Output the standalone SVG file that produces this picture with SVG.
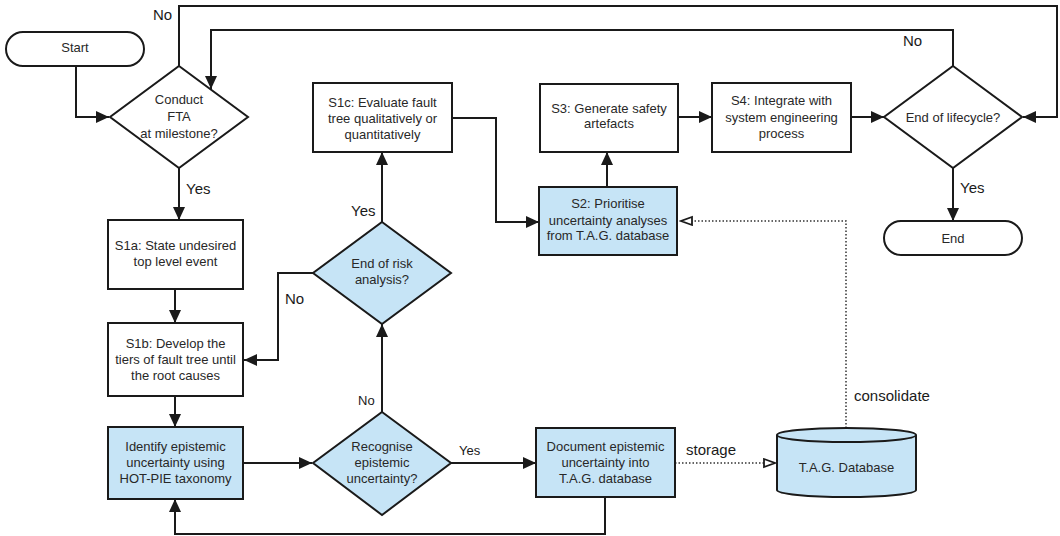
<svg xmlns="http://www.w3.org/2000/svg" width="1060" height="536" viewBox="0 0 1060 536">
  <defs>
    <style>
      .box { fill: #ffffff; stroke: #1a1a1a; stroke-width: 2; }
      .hl { fill: #c6e4f6; }
      .t { font-family: "Liberation Sans", Arial, sans-serif; font-size: 13px; fill: #282828; text-anchor: middle; }
      .lbl { font-family: "Liberation Sans", Arial, sans-serif; font-size: 15px; fill: #1a1a1a; }
      .lbs { font-family: "Liberation Sans", Arial, sans-serif; font-size: 13px; fill: #1a1a1a; }
      .ln { fill: none; stroke: #1a1a1a; stroke-width: 2; }
      .dot { fill: none; stroke: #333; stroke-width: 1.5; stroke-dasharray: 1.5 2; }
    </style>
    <marker id="arr" markerUnits="userSpaceOnUse" markerWidth="14" markerHeight="12" refX="13" refY="6" orient="auto">
      <path d="M0,0 L13,6 L0,12 Z" fill="#1a1a1a"/>
    </marker>
    <marker id="open" markerUnits="userSpaceOnUse" markerWidth="14" markerHeight="12" refX="12" refY="5" orient="auto">
      <path d="M1,1 L12,5 L1,9 Z" fill="#ffffff" stroke="#1a1a1a" stroke-width="1.8"/>
    </marker>
  </defs>

  <!-- connectors -->
  <g id="connectors">
    <path class="ln" d="M76,66 V117 H109" marker-end="url(#arr)"/>
    <path class="ln" d="M179,66 V6 H1057 V117 H1023" marker-end="url(#arr)"/>
    <path class="ln" d="M953,66 V30 H211 V89" marker-end="url(#arr)"/>
    <path class="ln" d="M179,168 V220" marker-end="url(#arr)"/>
    <path class="ln" d="M175,289 V323" marker-end="url(#arr)"/>
    <path class="ln" d="M175,396 V427" marker-end="url(#arr)"/>
    <path class="ln" d="M243,463 H312" marker-end="url(#arr)"/>
    <path class="ln" d="M451,463 H536" marker-end="url(#arr)"/>
    <path class="ln" d="M605,497 V534 H175 V499" marker-end="url(#arr)"/>
    <path class="ln" d="M382,412 V324" marker-end="url(#arr)"/>
    <path class="ln" d="M313,273 H278 V360 H244" marker-end="url(#arr)"/>
    <path class="ln" d="M382,222 V152" marker-end="url(#arr)"/>
    <path class="ln" d="M452,118 H496 V222 H539" marker-end="url(#arr)"/>
    <path class="ln" d="M607,187 V152" marker-end="url(#arr)"/>
    <path class="ln" d="M678,117 H712" marker-end="url(#arr)"/>
    <path class="ln" d="M851,117 H884" marker-end="url(#arr)"/>
    <path class="ln" d="M953,168 V221" marker-end="url(#arr)"/>
    <path class="dot" d="M675,463 H775" marker-end="url(#open)"/>
    <path class="dot" d="M846,428 V221 H681" marker-end="url(#open)"/>

    <text class="lbl" x="153" y="20">No</text>
    <text class="lbl" x="903" y="46">No</text>
    <text class="lbl" x="186" y="194">Yes</text>
    <text class="lbl" x="960" y="193">Yes</text>
    <text class="lbl" x="351" y="216">Yes</text>
    <text class="lbl" x="285" y="304">No</text>
    <text class="lbs" x="358" y="405">No</text>
    <text class="lbs" x="459" y="455">Yes</text>
    <text class="lbl" x="686" y="455">storage</text>
    <text class="lbl" x="854" y="401">consolidate</text>
  </g>

  <g id="start">
    <rect class="box" x="6" y="32" width="138" height="34" rx="17"/>
    <text class="t" x="75" y="52">Start</text>
  </g>

  <g id="conduct-fta">
    <polygon class="box" points="179,66 248,117 179,168 110,117"/>
    <text class="t" x="179" y="104">Conduct</text>
    <text class="t" x="179" y="121">FTA</text>
    <text class="t" x="179" y="138">at milestone?</text>
  </g>

  <g id="s1a">
    <rect class="box" x="108" y="220" width="135" height="69"/>
    <text class="t" x="175.5" y="250">S1a: State undesired</text>
    <text class="t" x="175.5" y="266">top level event</text>
  </g>

  <g id="s1b">
    <rect class="box" x="108" y="323" width="135" height="73"/>
    <text class="t" x="175.5" y="348">S1b: Develop the</text>
    <text class="t" x="175.5" y="364">tiers of fault tree until</text>
    <text class="t" x="175.5" y="380">the root causes</text>
  </g>

  <g id="identify">
    <rect class="box hl" x="108" y="427" width="135" height="72"/>
    <text class="t" x="175.5" y="451">Identify epistemic</text>
    <text class="t" x="175.5" y="467">uncertainty using</text>
    <text class="t" x="175.5" y="483">HOT-PIE taxonomy</text>
  </g>

  <g id="recognise">
    <polygon class="box hl" points="382,412 451,463 382,515 313,463"/>
    <text class="t" x="382" y="451">Recognise</text>
    <text class="t" x="382" y="467">epistemic</text>
    <text class="t" x="382" y="483">uncertainty?</text>
  </g>

  <g id="end-risk">
    <polygon class="box hl" points="382,222 451,273 382,324 313,273"/>
    <text class="t" x="382" y="268">End of risk</text>
    <text class="t" x="382" y="284">analysis?</text>
  </g>

  <g id="s1c">
    <rect class="box" x="313" y="83" width="139" height="69"/>
    <text class="t" x="382.5" y="107">S1c: Evaluate fault</text>
    <text class="t" x="382.5" y="123">tree qualitatively or</text>
    <text class="t" x="382.5" y="139">quantitatively</text>
  </g>

  <g id="document">
    <rect class="box hl" x="536" y="428" width="139" height="69"/>
    <text class="t" x="605.5" y="451">Document epistemic</text>
    <text class="t" x="605.5" y="467">uncertainty into</text>
    <text class="t" x="605.5" y="483">T.A.G. database</text>
  </g>

  <g id="s2">
    <rect class="box hl" x="539" y="187" width="138" height="68"/>
    <text class="t" x="608" y="208">S2: Prioritise</text>
    <text class="t" x="608" y="225">uncertainty analyses</text>
    <text class="t" x="608" y="240">from T.A.G. database</text>
  </g>

  <g id="s3">
    <rect class="box" x="540" y="84" width="138" height="68"/>
    <text class="t" x="609" y="113">S3: Generate safety</text>
    <text class="t" x="609" y="128">artefacts</text>
  </g>

  <g id="s4">
    <rect class="box" x="712" y="83" width="139" height="69"/>
    <text class="t" x="781.5" y="105">S4: Integrate with</text>
    <text class="t" x="781.5" y="122">system engineering</text>
    <text class="t" x="781.5" y="138">process</text>
  </g>

  <g id="end-lifecycle">
    <polygon class="box" points="953,66 1022,117 953,168 884,117"/>
    <text class="t" x="953" y="122">End of lifecycle?</text>
  </g>

  <g id="end">
    <rect class="box" x="884" y="221" width="138" height="34" rx="17"/>
    <text class="t" x="953" y="243">End</text>
  </g>

  <g id="tag-database">
    <path class="box hl" d="M777,435 A69.5,7 0 0 1 916,435 V490 A69.5,7 0 0 1 777,490 Z"/>
    <path class="ln" d="M777,435 A69.5,7 0 0 0 916,435"/>
    <text class="t" x="846.5" y="472">T.A.G. Database</text>
  </g>
</svg>
